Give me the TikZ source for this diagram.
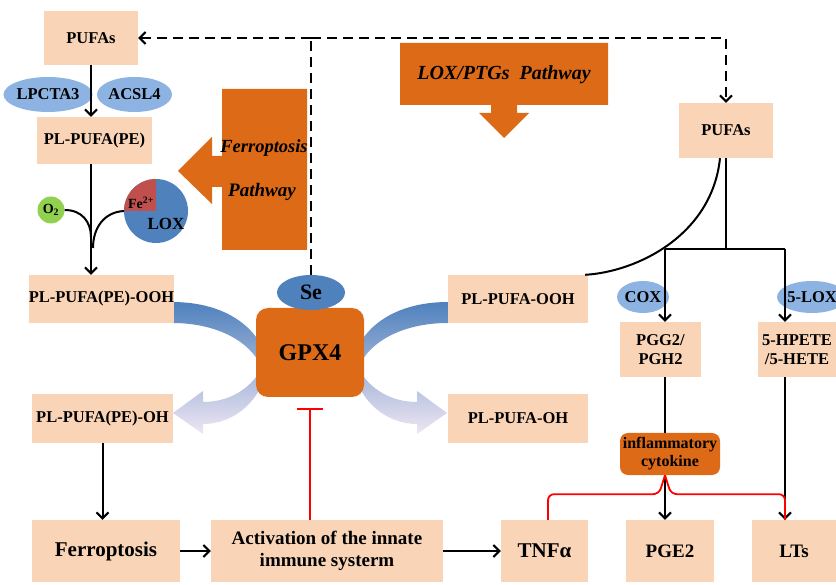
\documentclass[tikz,border=0pt]{standalone}
\usepackage{fontspec}
\setmainfont{Liberation Serif}
\usepackage{tikz}
\usetikzlibrary{shapes.geometric,arrows.meta}
\definecolor{peach}{HTML}{F9D4B6}
\definecolor{rust}{HTML}{DC6A17}
\definecolor{skyblue}{HTML}{8DB3E2}
\definecolor{deepblue}{HTML}{4F81BD}
\definecolor{ferric}{HTML}{C0504D}
\definecolor{oxgreen}{HTML}{92D050}
\definecolor{fadeblue}{HTML}{A7CBEB}
\definecolor{lavender}{HTML}{EFE6F3}
\tikzstyle{stage} = [rectangle, fill=peach, inner sep=0pt, align=center, font=\bfseries\fontsize{16.5}{19}\selectfont]
\tikzstyle{bigstage} = [stage, minimum height=62pt, font=\bfseries\fontsize{19}{22}\selectfont]
\tikzstyle{enzyme} = [ellipse, fill=skyblue, inner sep=0pt, font=\bfseries\fontsize{16.5}{18}\selectfont]
\tikzstyle{pathlabel} = [font=\bfseries\itshape\fontsize{19}{21}\selectfont]
\tikzstyle{flow} = [line width=2pt, -{Straight Barb[length=6pt,width=12pt]}]
\tikzstyle{link} = [line width=2pt]
\tikzstyle{guide} = [line width=2pt, dash pattern=on 10pt off 6pt]
\tikzstyle{inhibit} = [red, line width=1.8pt]

\begin{document}
\begin{tikzpicture}[x=1pt, y=-1pt]
\useasboundingbox (0,0) rectangle (836,585);

\fill[rust] (222,89) -- (307,89) -- (307,250) -- (222,250) -- (222,187) -- (212,187)
    -- (212,204) -- (178,171) -- (212,137) -- (212,156) -- (222,156) -- cycle;
\node[pathlabel, font=\bfseries\itshape\fontsize{18.5}{20}\selectfont] (ferrowhy) at (264,148) {Ferroptosis};
\node[pathlabel] (ferrowhat) at (262,192) {Pathway};

\fill[rust] (400,43) -- (608,43) -- (608,105) -- (517,105) -- (517,113) -- (529,113)
    -- (504,138) -- (479,113) -- (491,113) -- (491,105) -- (400,105) -- cycle;
\node[pathlabel, font=\bfseries\itshape\fontsize{20}{22}\selectfont] (loxwhy) at (504,75) {LOX/PTGs\ \ Pathway};

\foreach \sx/\dx in {1/0,-1/620}{
  \begin{scope}[xshift=\dx pt, xscale=\sx]
    \shade[top color=deepblue, middle color=fadeblue, bottom color=lavender]
      (172,302) .. controls (228,302) and (262,330) .. (268,365)
      .. controls (262,400) and (235,424) .. (203,424) -- (203,434) -- (173,413)
      -- (203,391) -- (203,402) .. controls (228,402) and (250,390) .. (262,368)
      .. controls (250,340) and (215,323) .. (172,323) -- cycle;
  \end{scope}
}

\node[stage, minimum width=94pt, minimum height=54pt] (pufaL) at (91,38) {PUFAs};
\node[enzyme, minimum width=77pt, minimum height=35pt] (lpcta) at (48,94.5) {LPCTA3};
\node[enzyme, minimum width=75pt, minimum height=35pt] (acsl) at (134.5,94.5) {ACSL4};
\node[stage, minimum width=115pt, minimum height=47pt] (plpufa) at (94.5,140.5) {PL-PUFA(PE)};
\node[circle, fill=oxgreen, minimum size=27pt, inner sep=0pt, font=\bfseries\fontsize{14}{16}\selectfont] (oxy) at (51,210) {O\textsubscript{2}};
\node[circle, fill=deepblue, minimum size=64pt, inner sep=0pt, outer sep=0pt] (lox) at (156,211) {};
\fill[ferric] (lox.center) -- (lox.west) arc[start angle=180, end angle=90, radius=32pt] -- cycle;
\node[font=\bfseries\fontsize{14}{16}\selectfont] (iron) at (141,203) {Fe\textsuperscript{2+}};
\node[font=\bfseries\fontsize{17}{19}\selectfont] (loxname) at (166,224) {LOX};
\node[stage, minimum width=141pt, minimum height=48pt] (plooh) at (101.5,299) {PL-PUFA(PE)-OOH};
\node[stage, minimum width=141pt, minimum height=49pt] (ploh) at (102.5,418.5) {PL-PUFA(PE)-OH};

\node[fill=rust, rounded corners=12pt, minimum width=108pt, minimum height=89pt, font=\bfseries\fontsize{24}{26}\selectfont] (gpx) at (310,352.5) {GPX4};
\node[ellipse, fill=deepblue, minimum width=68pt, minimum height=35pt, inner sep=0pt, font=\bfseries\fontsize{22}{24}\selectfont] (se) at (311,292.5) {Se};

\node[stage, minimum width=94pt, minimum height=55pt] (pufaR) at (726,130.5) {PUFAs};
\node[stage, minimum width=140pt, minimum height=48pt] (pufaooh) at (518,299) {PL-PUFA-OOH};
\node[stage, minimum width=140pt, minimum height=49pt] (pufaoh) at (518,418.5) {PL-PUFA-OH};
\node[stage, minimum width=81pt, minimum height=55pt] (pgg) at (660.5,349.5) {PGG2/\\PGH2};
\node[stage, minimum width=78pt, minimum height=55pt] (hpete) at (797,349.5) {5-HPETE\\/5-HETE};
\node[fill=rust, rounded corners=8pt, minimum width=100pt, minimum height=42pt, inner sep=0pt, align=center, font=\bfseries\fontsize{16}{18}\selectfont] (infl) at (670,454) {inflammatory\\cytokine};

\node[bigstage, minimum width=148pt, font=\bfseries\fontsize{21}{23}\selectfont] (ferro) at (106,551) {Ferroptosis};
\node[bigstage, minimum width=232pt] (activ) at (327,551) {Activation of the innate\\immune systerm};
\node[bigstage, minimum width=87pt, font=\bfseries\fontsize{21}{23}\selectfont] (tnf) at (544.5,551) {TNFα};
\node[bigstage, minimum width=88pt] (pge) at (670,551) {PGE2};
\node[bigstage, minimum width=84pt] (lts) at (794,551) {LTs};

\coordinate (split) at (se.north |- pufaL.east);
\coordinate (fork) at (726,249);
\coordinate (forkL) at (665,249);
\coordinate (forkR) at (785,249);
\coordinate (oxyjoin) at (91,237);
\coordinate (loxjoin) at (93,248);
\coordinate (cusp) at (forkL |- infl.south);

\draw[guide] (se.north) -- (split);
\draw[guide, -{Straight Barb[length=6pt,width=12pt]}] (split) -- (pufaL.east);
\draw[guide, -{Straight Barb[length=6pt,width=12pt]}] (split) -| (pufaR.north);

\draw[flow] (pufaL.south) -- (pufaL.south |- plpufa.north);
\draw[flow] (plpufa.south -| pufaL.south) -- (plooh.north -| pufaL.south);
\draw[link] (oxy.east) .. controls (82,210) and (91,222) .. (oxyjoin);
\draw[link] (lox.west) .. controls (104,212) and (93,228) .. (loxjoin);
\draw[flow] (ploh.south) -- (ploh.south |- ferro.north);
\draw[flow] (ferro.east) -- (activ.west);
\draw[flow] (activ.east) -- (tnf.west);
\draw[inhibit, -{Bar[width=26pt, line width=1.8pt]}] (gpx.south |- activ.north) -- ([yshift=-11pt]gpx.south);

\draw[link] (pufaR.south) -- (fork);
\draw[link] (forkL) -- (forkR);
\draw[link] ([xshift=-6pt]pufaR.south) .. controls +(-8,77) and +(52,-3) .. ([xshift=-3pt]pufaooh.north east);
\node[enzyme, minimum width=48pt, minimum height=32pt] (cox) at (643,297) {COX};
\node[enzyme, minimum width=54pt, minimum height=32pt] (lox5) at (812,297) {5-LOX};
\draw[flow] (forkL) -- (forkL |- pgg.north);
\draw[flow] (forkR) -- (forkR |- hpete.north);
\draw[link] (forkL |- pgg.south) -- (forkL |- infl.north);
\draw[flow] (cusp) -- (forkL |- pge.north);
\draw[flow] (forkR |- hpete.south) -- (forkR |- lts.north);
\draw[inhibit, rounded corners=6pt] ([xshift=3.5pt]tnf.north) |- ([xshift=-6pt, yshift=-19pt]cusp) -- (cusp);
\draw[inhibit, rounded corners=6pt] (cusp) -- ([xshift=6pt, yshift=-19pt]cusp) -| (forkR |- lts.north);
\end{tikzpicture}
\end{document}
